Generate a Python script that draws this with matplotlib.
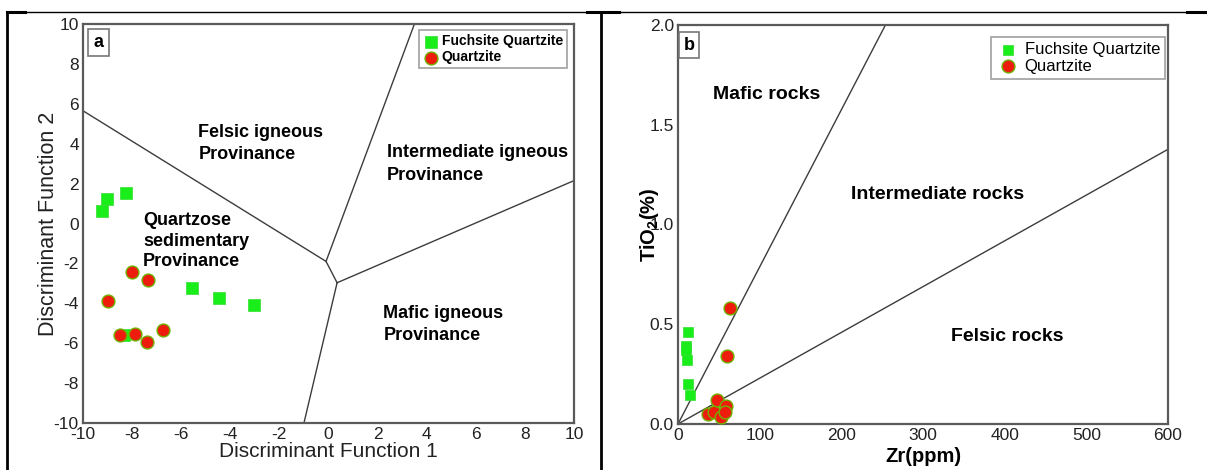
import matplotlib
matplotlib.use("Agg")
import matplotlib.pyplot as plt
from matplotlib.lines import Line2D

plt.rcParams['font.family'] = ['Liberation Sans', 'DejaVu Sans']
plt.rcParams['mathtext.fontset'] = 'custom'
plt.rcParams['mathtext.rm'] = 'Liberation Sans'
plt.rcParams['mathtext.bf'] = 'Liberation Sans:bold'
plt.rcParams['axes.unicode_minus'] = False

# panel a: discriminant function diagram
fq_df1 = [-9.24, -9.03, -8.24, -5.56, -4.45, -3.02, -8.35]
fq_df2 = [0.62, 1.25, 1.55, -3.24, -3.71, -4.10, -5.6]
qz_df1 = [-8.01, -7.37, -8.99, -8.49, -7.90, -7.40, -6.76]
qz_df2 = [-2.45, -2.82, -3.88, -5.60, -5.56, -5.93, -5.34]

# field boundaries (x, y)
bound_a = [
    ([-10, -0.1], [5.65, -1.9]),
    ([-0.1, 3.5], [-1.9, 10]),
    ([-0.1, 0.35], [-1.9, -2.97]),
    ([0.35, 10], [-2.97, 2.15]),
    ([0.35, -1.0], [-2.97, -10]),
]

# panel b: TiO2 vs Zr
fq_zr = [12.7, 9.8, 10.6, 10.0, 12.7, 14.7]
fq_ti = [0.46, 0.39, 0.32, 0.37, 0.20, 0.147]
qz_zr = [37.3, 43.6, 52.5, 47.8, 58.8, 57.8, 59.6, 63.4]
qz_ti = [0.05, 0.058, 0.037, 0.122, 0.092, 0.058, 0.34, 0.58]

bound_b = [
    ([0, 254], [0, 2.0]),
    ([0, 600], [0, 1.377]),
]

green = '#1aee1a'
red = '#ee1c0c'
red_edge = '#6fb000'
frame = '#5a5a5a'
linec = '#3c3c3c'

W, H = 1207, 470
fig = plt.figure(figsize=(W / 100, H / 100), dpi=100)

ax1 = fig.add_axes([83 / W, 1 - 423 / H, 491 / W, 399 / H])
ax2 = fig.add_axes([678 / W, 1 - 424 / H, 490 / W, 399 / H])

for ax in (ax1, ax2):
    for s in ax.spines.values():
        s.set_color(frame)
        s.set_linewidth(1.6)
    ax.tick_params(length=0, pad=3, labelsize=12.5, labelcolor='#222222')

# ---- panel a ----
for xs, ys in bound_a:
    ax1.plot(xs, ys, color=linec, lw=1.0)
ax1.scatter(fq_df1, fq_df2, marker='s', s=75, color=green, edgecolors='#33dd33',
            linewidths=0.5, zorder=3, label='Fuchsite Quartzite')
ax1.scatter(qz_df1, qz_df2, marker='o', s=85, color=red, edgecolors=red_edge,
            linewidths=1.0, zorder=4, label='Quartzite')
ax1.set_xlim(-10, 10)
ax1.set_ylim(-10, 10)
ax1.set_xticks(range(-10, 11, 2))
ax1.set_yticks(range(-10, 11, 2))
ax1.set_xlabel('Discriminant Function 1', fontsize=15, labelpad=0, color='#222222')
ax1.set_ylabel('Discriminant Function 2', fontsize=15.5, labelpad=-4, color='#222222')

fs_a = 13
ax1.text(-5.3, 4.0, 'Felsic igneous\nProvinance', fontsize=fs_a, fontweight='bold',
         ha='left', va='center', linespacing=1.4)
ax1.text(2.37, 2.98, 'Intermediate igneous\nProvinance', fontsize=fs_a, fontweight='bold',
         ha='left', va='center', linespacing=1.4)
ax1.text(-7.55, -0.88, 'Quartzose\nsedimentary\nProvinance', fontsize=fs_a, fontweight='bold',
         ha='left', va='center', linespacing=1.25)
ax1.text(2.24, -5.06, 'Mafic igneous\nProvinance', fontsize=fs_a, fontweight='bold',
         ha='left', va='center', linespacing=1.4)
ax1.text(0.022, 0.975, 'a', transform=ax1.transAxes, fontsize=13, fontweight='bold',
         ha='left', va='top',
         bbox=dict(boxstyle='square,pad=0.3', fc='white', ec='#777777', lw=1.2))

leg1 = ax1.legend(loc='upper right', bbox_to_anchor=(0.986, 0.985), frameon=True,
                  fancybox=False, edgecolor='#888888', borderpad=0.3, labelspacing=0.15,
                  handletextpad=0.3, handlelength=1.0, borderaxespad=0,
                  prop={'size': 10, 'weight': 'bold'})
leg1.get_frame().set_linewidth(1.2)

# ---- panel b ----
for xs, ys in bound_b:
    ax2.plot(xs, ys, color=linec, lw=1.0)
ax2.scatter(fq_zr, fq_ti, marker='s', s=60, color=green, edgecolors='#33dd33',
            linewidths=0.5, zorder=3, label='Fuchsite Quartzite')
ax2.scatter(qz_zr, qz_ti, marker='o', s=85, color=red, edgecolors=red_edge,
            linewidths=1.0, zorder=4, label='Quartzite')
ax2.set_xlim(0, 600)
ax2.set_ylim(0, 2.0)
ax2.set_xticks(range(0, 601, 100))
ax2.set_yticks([0.0, 0.5, 1.0, 1.5, 2.0])
ax2.set_yticklabels(['0.0', '0.5', '1.0', '1.5', '2.0'])
ax2.set_xlabel('Zr(ppm)', fontsize=14.5, fontweight='bold', labelpad=3)
ax2.set_ylabel(r'$\mathbf{TiO_2(\%)}$', fontsize=14.5, labelpad=-8)

fs_b = 14
ax2.text(109, 1.65, 'Mafic rocks', fontsize=fs_b, fontweight='bold', ha='center', va='center')
ax2.text(318, 1.15, 'Intermediate rocks', fontsize=fs_b, fontweight='bold', ha='center', va='center')
ax2.text(403, 0.44, 'Felsic rocks', fontsize=fs_b, fontweight='bold', ha='center', va='center')
ax2.text(0.012, 0.97, 'b', transform=ax2.transAxes, fontsize=13, fontweight='bold',
         ha='left', va='top',
         bbox=dict(boxstyle='square,pad=0.25', fc='white', ec='#777777', lw=1.2))

leg2 = ax2.legend(loc='upper right', bbox_to_anchor=(0.994, 0.970), frameon=True,
                  fancybox=False, edgecolor='#888888', borderpad=0.3, labelspacing=0.1,
                  handletextpad=0.3, handlelength=1.4, borderaxespad=0,
                  prop={'size': 12})
leg2.get_frame().set_linewidth(1.2)

# table borders around the two panels
def fline(x0, y0, x1, y1, lw):
    fig.add_artist(Line2D([x0 / W, x1 / W], [1 - y0 / H, 1 - y1 / H],
                          transform=fig.transFigure, color='black', lw=lw))

fline(7, 12, 1207, 12, 1.0)
fline(7, 12, 25, 12, 2.2)
fline(587, 12, 619, 12, 2.2)
fline(1187, 12, 1207, 12, 2.2)
fline(7, 12, 7, 470, 2.0)
fline(601, 12, 601, 470, 2.0)

fig.savefig('out.png', dpi=100)
